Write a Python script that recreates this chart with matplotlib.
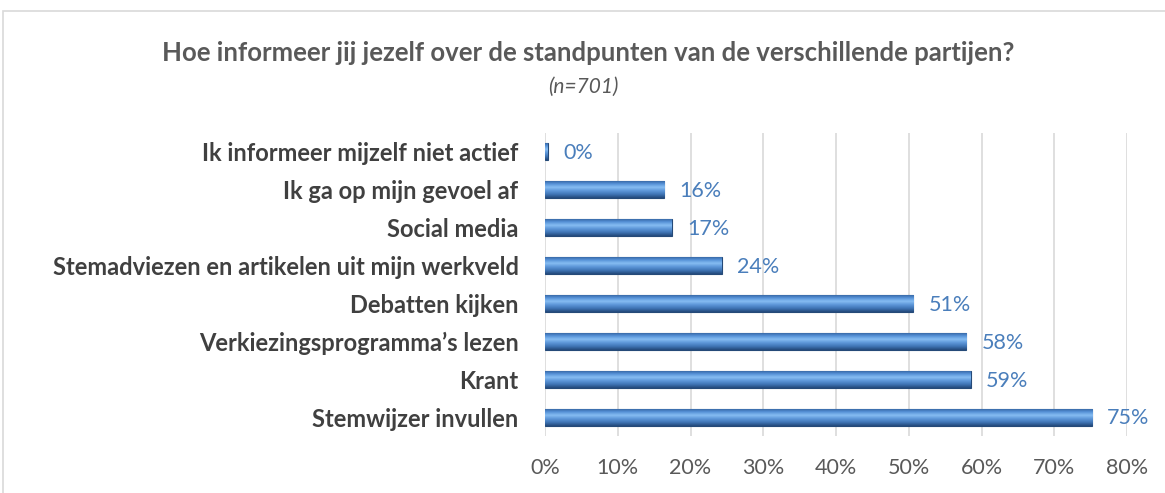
import numpy as np
import matplotlib
matplotlib.use('Agg')
import matplotlib.pyplot as plt
from matplotlib.patches import Rectangle

# data (bottom to top)
categories = ['Stemwijzer invullen', 'Krant', 'Verkiezingsprogramma’s lezen', 'Debatten kijken',
              'Stemadviezen en artikelen uit mijn werkveld', 'Social media',
              'Ik ga op mijn gevoel af', 'Ik informeer mijzelf niet actief']
values = [75.2, 58.5, 57.9, 50.6, 24.3, 17.4, 16.4, 0.4]
labels = ['75%', '59%', '58%', '51%', '24%', '17%', '16%', '0%']
ticks = [0, 10, 20, 30, 40, 50, 60, 70, 80]

plt.rcParams['font.family'] = ['Lato', 'DejaVu Sans']

fig = plt.figure(figsize=(11.65, 4.93), dpi=100)
ax = fig.add_axes([545 / 1165, 0.1156, 582 / 1165, 0.6146])

# outer chart border
fig.patches.append(Rectangle((3 / 1165, -0.1), 1.2, 1 - 11 / 493 + 0.1, transform=fig.transFigure,
                             fill=False, edgecolor='#d9d9d9', linewidth=1.2))

y = np.arange(len(categories))
bars = ax.barh(y, values, height=0.45, color='#4a7ebb', edgecolor='#254a78', linewidth=0.8, zorder=3)

# bevel-like vertical gradient inside each bar
grad = np.linspace(0, 1, 64).reshape(-1, 1)
cmap = matplotlib.colors.LinearSegmentedColormap.from_list(
    'bev', ['#23497a', '#3f74b4', '#5c95d8', '#86bdf2', '#5590d6', '#2f5d98'])
for bar in bars:
    x0, y0 = bar.get_x(), bar.get_y()
    w, h = bar.get_width(), bar.get_height()
    im = ax.imshow(grad, cmap=cmap, aspect='auto', extent=(x0, x0 + w, y0, y0 + h),
                   origin='lower', zorder=3.5)
    im.set_clip_path(bar)

for bar, lab in zip(bars, labels):
    ax.annotate(lab, (bar.get_width(), bar.get_y() + bar.get_height() / 2),
                xytext=(11, -1), textcoords='offset points', va='center', ha='left',
                fontsize=15.5, color='#4a7ebb')

ax.set_xlim(0, 80)
ax.set_ylim(-0.5, len(categories) - 0.5)
ax.set_xticks(ticks)
ax.set_xticklabels([f'{t}%' for t in ticks])
ax.set_yticks(y)
ax.set_yticklabels(categories, fontweight='bold')
ax.tick_params(axis='x', length=0, pad=16, labelsize=15.5, labelcolor='#595959')
ax.tick_params(axis='y', length=0, pad=19, labelsize=17, labelcolor='#404040')
ax.grid(axis='x', color='#d9d9d9', linewidth=1.2, zorder=0)
ax.set_axisbelow(True)
for s in ax.spines.values():
    s.set_visible(False)

fig.text(588 / 1165, 1 - 53 / 493, 'Hoe informeer jij jezelf over de standpunten van de verschillende partijen?',
         ha='center', va='center', fontsize=18.5, fontweight='bold', color='#595959')
fig.text(583 / 1165, 1 - 87 / 493, '(n=701)', ha='center', va='center', fontsize=15,
         fontstyle='italic', color='#595959')

fig.savefig('out.png', dpi=100)
